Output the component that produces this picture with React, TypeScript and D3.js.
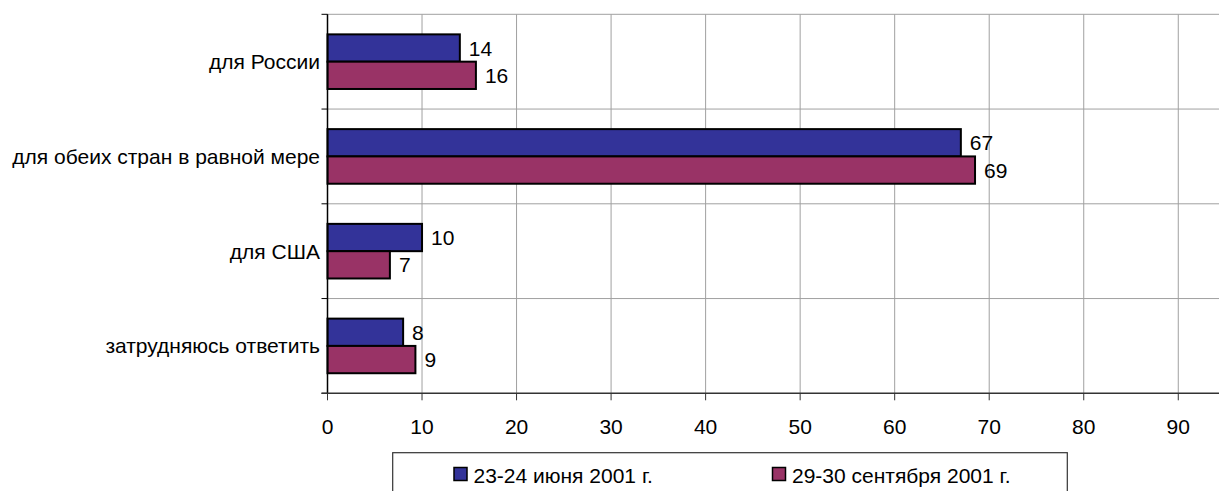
import React from "react";
import * as d3 from "d3";

const categories = [
  "для России",
  "для обеих стран в равной мере",
  "для США",
  "затрудняюсь ответить",
];
const seriesNames = ["23-24 июня 2001 г.", "29-30 сентября 2001 г."];
const juneValues = [14, 67, 10, 8];
const septValues = [15.7, 68.5, 6.6, 9.3];
const xTicks = [0, 10, 20, 30, 40, 50, 60, 70, 80, 90];
const colors = ["#333399", "#993366"];

const W = 1219;
const H = 491;
const FONT = "Arial, 'Liberation Sans', sans-serif";
const FS = 21;

export default function App() {
  const left = 327.5;
  const top = 14.3;
  const bottom = 393.3;
  const x = d3.scaleLinear().domain([0, 100]).range([left, left + 945.3]);
  const y = d3.scaleBand<string>().domain(categories).range([top, bottom]).padding(0);
  const sub = d3
    .scaleBand<string>()
    .domain(seriesNames)
    .range([0, y.bandwidth()])
    .paddingInner(0)
    .paddingOuter(0.735);
  const series = [juneValues, septValues];
  const boundaries = categories.map((c) => y(c) as number).concat([bottom]);

  return (
    <svg
      width={W}
      height={H}
      style={{ position: "absolute", left: 0, top: 0, display: "block", background: "#fff" }}
      fontFamily={FONT}
    >
      {xTicks.map((t) => (
        <line key={"g" + t} x1={x(t)} x2={x(t)} y1={top} y2={bottom} stroke="#a0a0a0" strokeWidth={1} />
      ))}
      {boundaries.slice(0, -1).map((b, i) => (
        <line key={"h" + i} x1={left} x2={W} y1={b} y2={b} stroke="#a0a0a0" strokeWidth={1} />
      ))}
      {series.map((vals, si) =>
        vals.map((v, ci) => {
          const yy = (y(categories[ci]) as number) + (sub(seriesNames[si]) as number);
          const h = sub.bandwidth();
          return (
            <g key={si + "-" + ci}>
              <rect
                x={x(0)}
                y={yy}
                width={x(v) - x(0)}
                height={h}
                fill={colors[si]}
                stroke="#000"
                strokeWidth={2}
              />
              <text
                x={x(v) + 9}
                y={yy + h / 2}
                dominantBaseline="central"
                fontSize={FS}
                fill="#000"
              >
                {Math.round(v)}
              </text>
            </g>
          );
        })
      )}
      <line x1={left} x2={left} y1={top} y2={bottom} stroke="#000" strokeWidth={1.5} />
      {boundaries.map((b, i) => (
        <line key={"yt" + i} x1={left - 6} x2={left} y1={b} y2={b} stroke="#000" strokeWidth={1} />
      ))}
      {categories.map((c) => (
        <text
          key={c}
          x={320}
          y={(y(c) as number) + y.bandwidth() / 2}
          textAnchor="end"
          dominantBaseline="central"
          fontSize={FS}
          fill="#000"
        >
          {c}
        </text>
      ))}
      <line x1={left - 6} x2={W} y1={bottom} y2={bottom} stroke="#333" strokeWidth={1.5} />
      {xTicks.map((t) => (
        <g key={"xt" + t}>
          <line x1={x(t)} x2={x(t)} y1={bottom} y2={bottom + 7} stroke="#333" strokeWidth={1} />
          <text x={x(t)} y={426} textAnchor="middle" dominantBaseline="central" fontSize={FS} fill="#000">
            {t}
          </text>
        </g>
      ))}
      <rect x={392.7} y={452.7} width={674.6} height={60} fill="#fff" stroke="#333" strokeWidth={1.2} />
      {seriesNames.map((s, i) => {
        const sx = i === 0 ? 454 : 772.5;
        return (
          <g key={s}>
            <rect x={sx} y={467.5} width={13} height={13} fill={colors[i]} stroke="#000" strokeWidth={1.5} />
            <text x={sx + 19.5} y={475} dominantBaseline="central" fontSize={FS} fill="#000">
              {s}
            </text>
          </g>
        );
      })}
    </svg>
  );
}
